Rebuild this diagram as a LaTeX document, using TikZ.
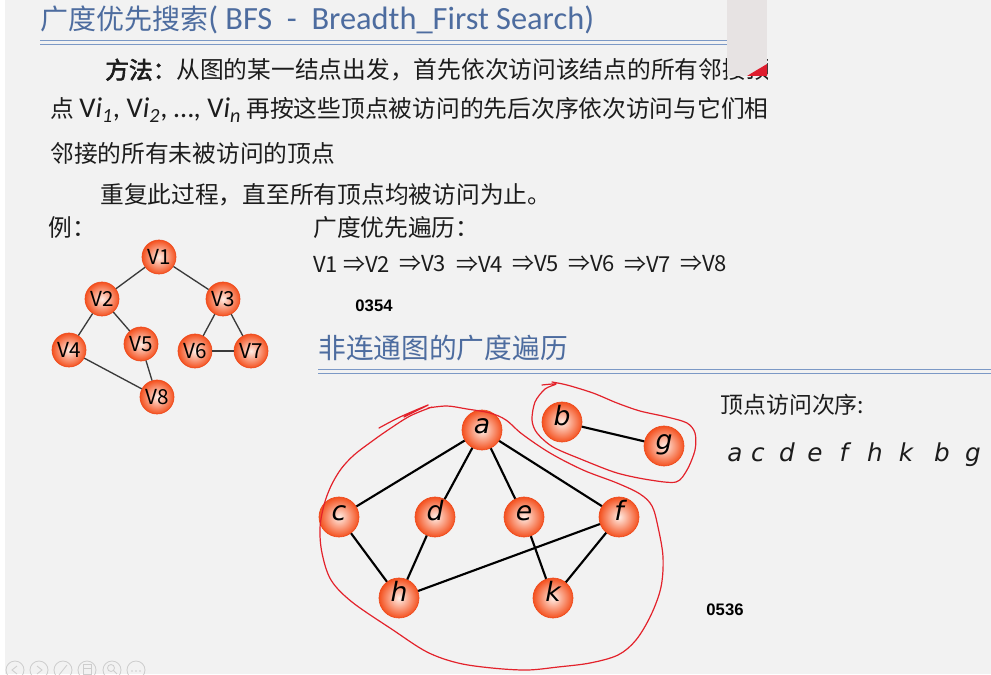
\documentclass[tikz,border=0pt]{standalone}
\usepackage{fontspec}
\setmainfont{Noto Sans CJK SC}
\newfontfamily\cjk{Noto Sans CJK SC}
\newfontfamily\cjkb[FakeBold=2.5]{Noto Sans CJK SC}
\newfontfamily\latin{Carlito}
\newfontfamily\letterfont{DejaVu Sans}
\newfontfamily\digitfont{Liberation Sans}
\definecolor{slidebg}{HTML}{F2F2F2}
\definecolor{titleblue}{HTML}{4D6C9F}
\definecolor{ruleblue}{HTML}{7C99C6}
\definecolor{inktext}{HTML}{1C1C1C}
\definecolor{nodein}{HTML}{FFEDE5}
\definecolor{nodeout}{HTML}{F4511F}
\definecolor{nodeedge}{HTML}{EE4A1C}
\definecolor{edgegray}{HTML}{3A3A3A}
\definecolor{penred}{HTML}{E3222B}
\definecolor{icongray}{HTML}{CDCDCD}
\definecolor{panel}{HTML}{E7E3E3}
\tikzset{
  body/.style={inner sep=0pt, anchor=west, text=inktext, font=\cjk\fontsize{17.8}{20}\selectfont},
  heading/.style={inner sep=0pt, anchor=west, text=titleblue},
  vnode/.style={circle, minimum size=25.5pt, inner sep=0pt, draw=nodeedge, line width=0.5pt,
    inner color=nodein, outer color=nodeout, text=black, font=\cjk\fontsize{15.5}{16}\selectfont},
  lnode/.style={circle, minimum size=30pt, inner sep=0pt, draw=nodeedge, line width=0.5pt,
    inner color=nodein, outer color=nodeout, text=black,
    font=\letterfont\itshape\fontsize{20}{21}\selectfont, text height=0.74em, text depth=0.21em},
  ledge/.style={draw=edgegray, line width=1pt},
  redge/.style={draw=black, line width=1.6pt},
  pen/.style={draw=penred, line width=0.9pt, line cap=round, line join=round},
  stamp/.style={inner sep=0pt, text=black, font=\digitfont\bfseries\fontsize{12.5}{13}\selectfont},
  icon/.style={draw=icongray, line width=0.6pt},
  order/.style={body, font=\cjk\fontsize{16.5}{18}\selectfont},
}
\begin{document}
\begin{tikzpicture}[x=0.75pt,y=-0.75pt]
% page
\fill[white] (0,0) rectangle (991,674);
\fill[slidebg] (5,0) rectangle (991,674);
\useasboundingbox (0,0) rectangle (991,674);

% title and its double rule
\node[heading] (title) at (40,20) {\cjk\fontsize{21}{24}\selectfont 广度优先搜索\latin\fontsize{24.3}{25}\selectfont( BFS\ \ -\ \ Breadth\_First Search)};
\draw[ruleblue, line width=1.2pt] (40,40.5) -- (727,40.5);
\draw[ruleblue, line width=0.7pt] (40,44) -- (727,44);

% method text
\begin{scope}
  \clip (0,50) rectangle (767,90);
  \node[body] (m1) at (105,70) {{\cjkb 方法：}从图的某一结点出发，首先依次访问该结点的所有邻接顶};
\end{scope}
\node[body] (m2) at (50,110) {点 {\latin\fontsize{21.5}{22}\selectfont V\textit{i}\textsubscript{\itshape 1}, V\textit{i}\textsubscript{\itshape 2}, …, V\textit{i}\textsubscript{\itshape n}} 再按这些顶点被访问的先后次序依次访问与它们相};
\node[body] (m3) at (50,153) {邻接的所有未被访问的顶点};
\node[body] (m4) at (100,195) {重复此过程，直至所有顶点均被访问为止。};
\node[body] (ex) at (48,228) {例：};
\node[body] (bfs) at (313,228) {广度优先遍历：};

% traversal order
\node[order] (o1) at (313,264) {V1};
\foreach \k/\px in {2/343,3/399,4/456,5/512,6/568,7/624,8/680}
  \node[order] (o\k) at (\px,264) {⇒V\k};

\node[stamp] (s1) at (374,306) {0354};
\node[stamp] (s2) at (725,610) {0536};

% second heading
\node[heading] (title2) at (318,348) {\cjk\fontsize{20.8}{24}\selectfont 非连通图的广度遍历};
\draw[ruleblue, line width=1.2pt] (318,369.5) -- (991,369.5);
\draw[ruleblue, line width=0.7pt] (318,373.5) -- (991,373.5);

% connected example graph
\node[vnode] (v1) at (159,257) {V1};
\node[vnode] (v2) at (102,299) {V2};
\node[vnode] (v3) at (223,299) {V3};
\node[vnode] (v4) at (69,350) {V4};
\node[vnode] (v5) at (141,344) {V5};
\node[vnode] (v6) at (195,351) {V6};
\node[vnode] (v7) at (251,351) {V7};
\node[vnode] (v8) at (157,397) {V8};
\foreach \u/\w in {v1/v2,v1/v3,v2/v4,v2/v5,v3/v6,v3/v7,v6/v7,v4/v8,v5/v8}
  \draw[ledge] (\u) -- (\w);

% disconnected graph
\node[lnode] (a) at (482,430) {a};
\node[lnode] (b) at (562,422) {b};
\node[lnode] (g) at (664,446) {g};
\node[lnode] (c) at (339,517) {c};
\node[lnode] (d) at (435,517) {d};
\node[lnode] (e) at (524,517) {e};
\node[lnode] (f) at (619,517) {f};
\node[lnode] (h) at (399,598) {h};
\node[lnode] (k) at (553,598) {k};
\foreach \u/\w in {a/c,a/d,a/e,a/f,c/h,d/h,h/f,e/k,f/k,b/g}
  \draw[redge] (\u) -- (\w);

% visiting order
\node[body, font=\cjk\fontsize{17.2}{18}\selectfont] (seq) at (720,405) {顶点访问次序:};
\foreach \ch/\px in {a/735,c/758,d/787,e/815,f/844,h/875,k/906,b/942,g/973}
  \node[inner sep=0pt, text=inktext, font=\letterfont\itshape\fontsize{18.5}{20}\selectfont, text height=0.74em, text depth=0.21em] (q\ch) at (\px,458) {\ch};

% hand-drawn loops around the two components
\draw[pen] plot[smooth, tension=0.5] coordinates {(379,428) (400,417) (428,405) (414,412) (404,417)};
\draw[pen] plot[smooth, tension=0.55] coordinates {
  (428,408) (447,406) (467,409) (490,413) (506,420) (522,434) (550,453) (583,470)
  (617,483) (640,494) (652,506) (658,527) (663,557) (661,587) (651,615) (636,640)
  (618,655) (590,663) (558,667) (527,670) (492,668) (458,663) (427,652) (393,630)
  (352,602) (331,580) (322,553) (320,528) (324,505) (331,486) (341,469) (354,455)
  (371,442) (388,430) (410,416) (432,407)};
\draw[pen] plot[smooth, tension=0.5] coordinates {
  (542,385) (556,384) (545,389) (535,402) (532,420) (537,433) (553,447) (583,460)
  (617,473) (650,480) (676,482) (687,470) (695,450) (695,433) (687,423) (667,417)
  (640,411) (617,403) (593,393) (567,385) (552,382)};

% overlay panel at the top edge
\fill[panel] (727,0) rectangle (767,76);
\fill[penred!85!purple] (747,76) .. controls (755,71) and (762,67) .. (767,64) -- (767,76) -- cycle;

% viewer controls at the bottom
\foreach \i/\px in {1/15,2/39,3/63,4/87,5/112,6/136}
  \draw[icon] (\px,670) circle[radius=9];
\draw[icon] (17,666) -- (12,670) -- (17,674);
\draw[icon] (37,666) -- (42,670) -- (37,674);
\draw[icon] (59,675) -- (67,665);
\draw[icon] (83,664) rectangle (91,674);
\draw[icon] (83,668) -- (91,668);
\draw[icon] (111,668) circle[radius=3.5];
\draw[icon] (113.5,670.5) -- (117,674);
\foreach \px in {132,136,140}
  \fill[icongray] (\px,671) circle[radius=0.9];
\end{tikzpicture}
\end{document}
